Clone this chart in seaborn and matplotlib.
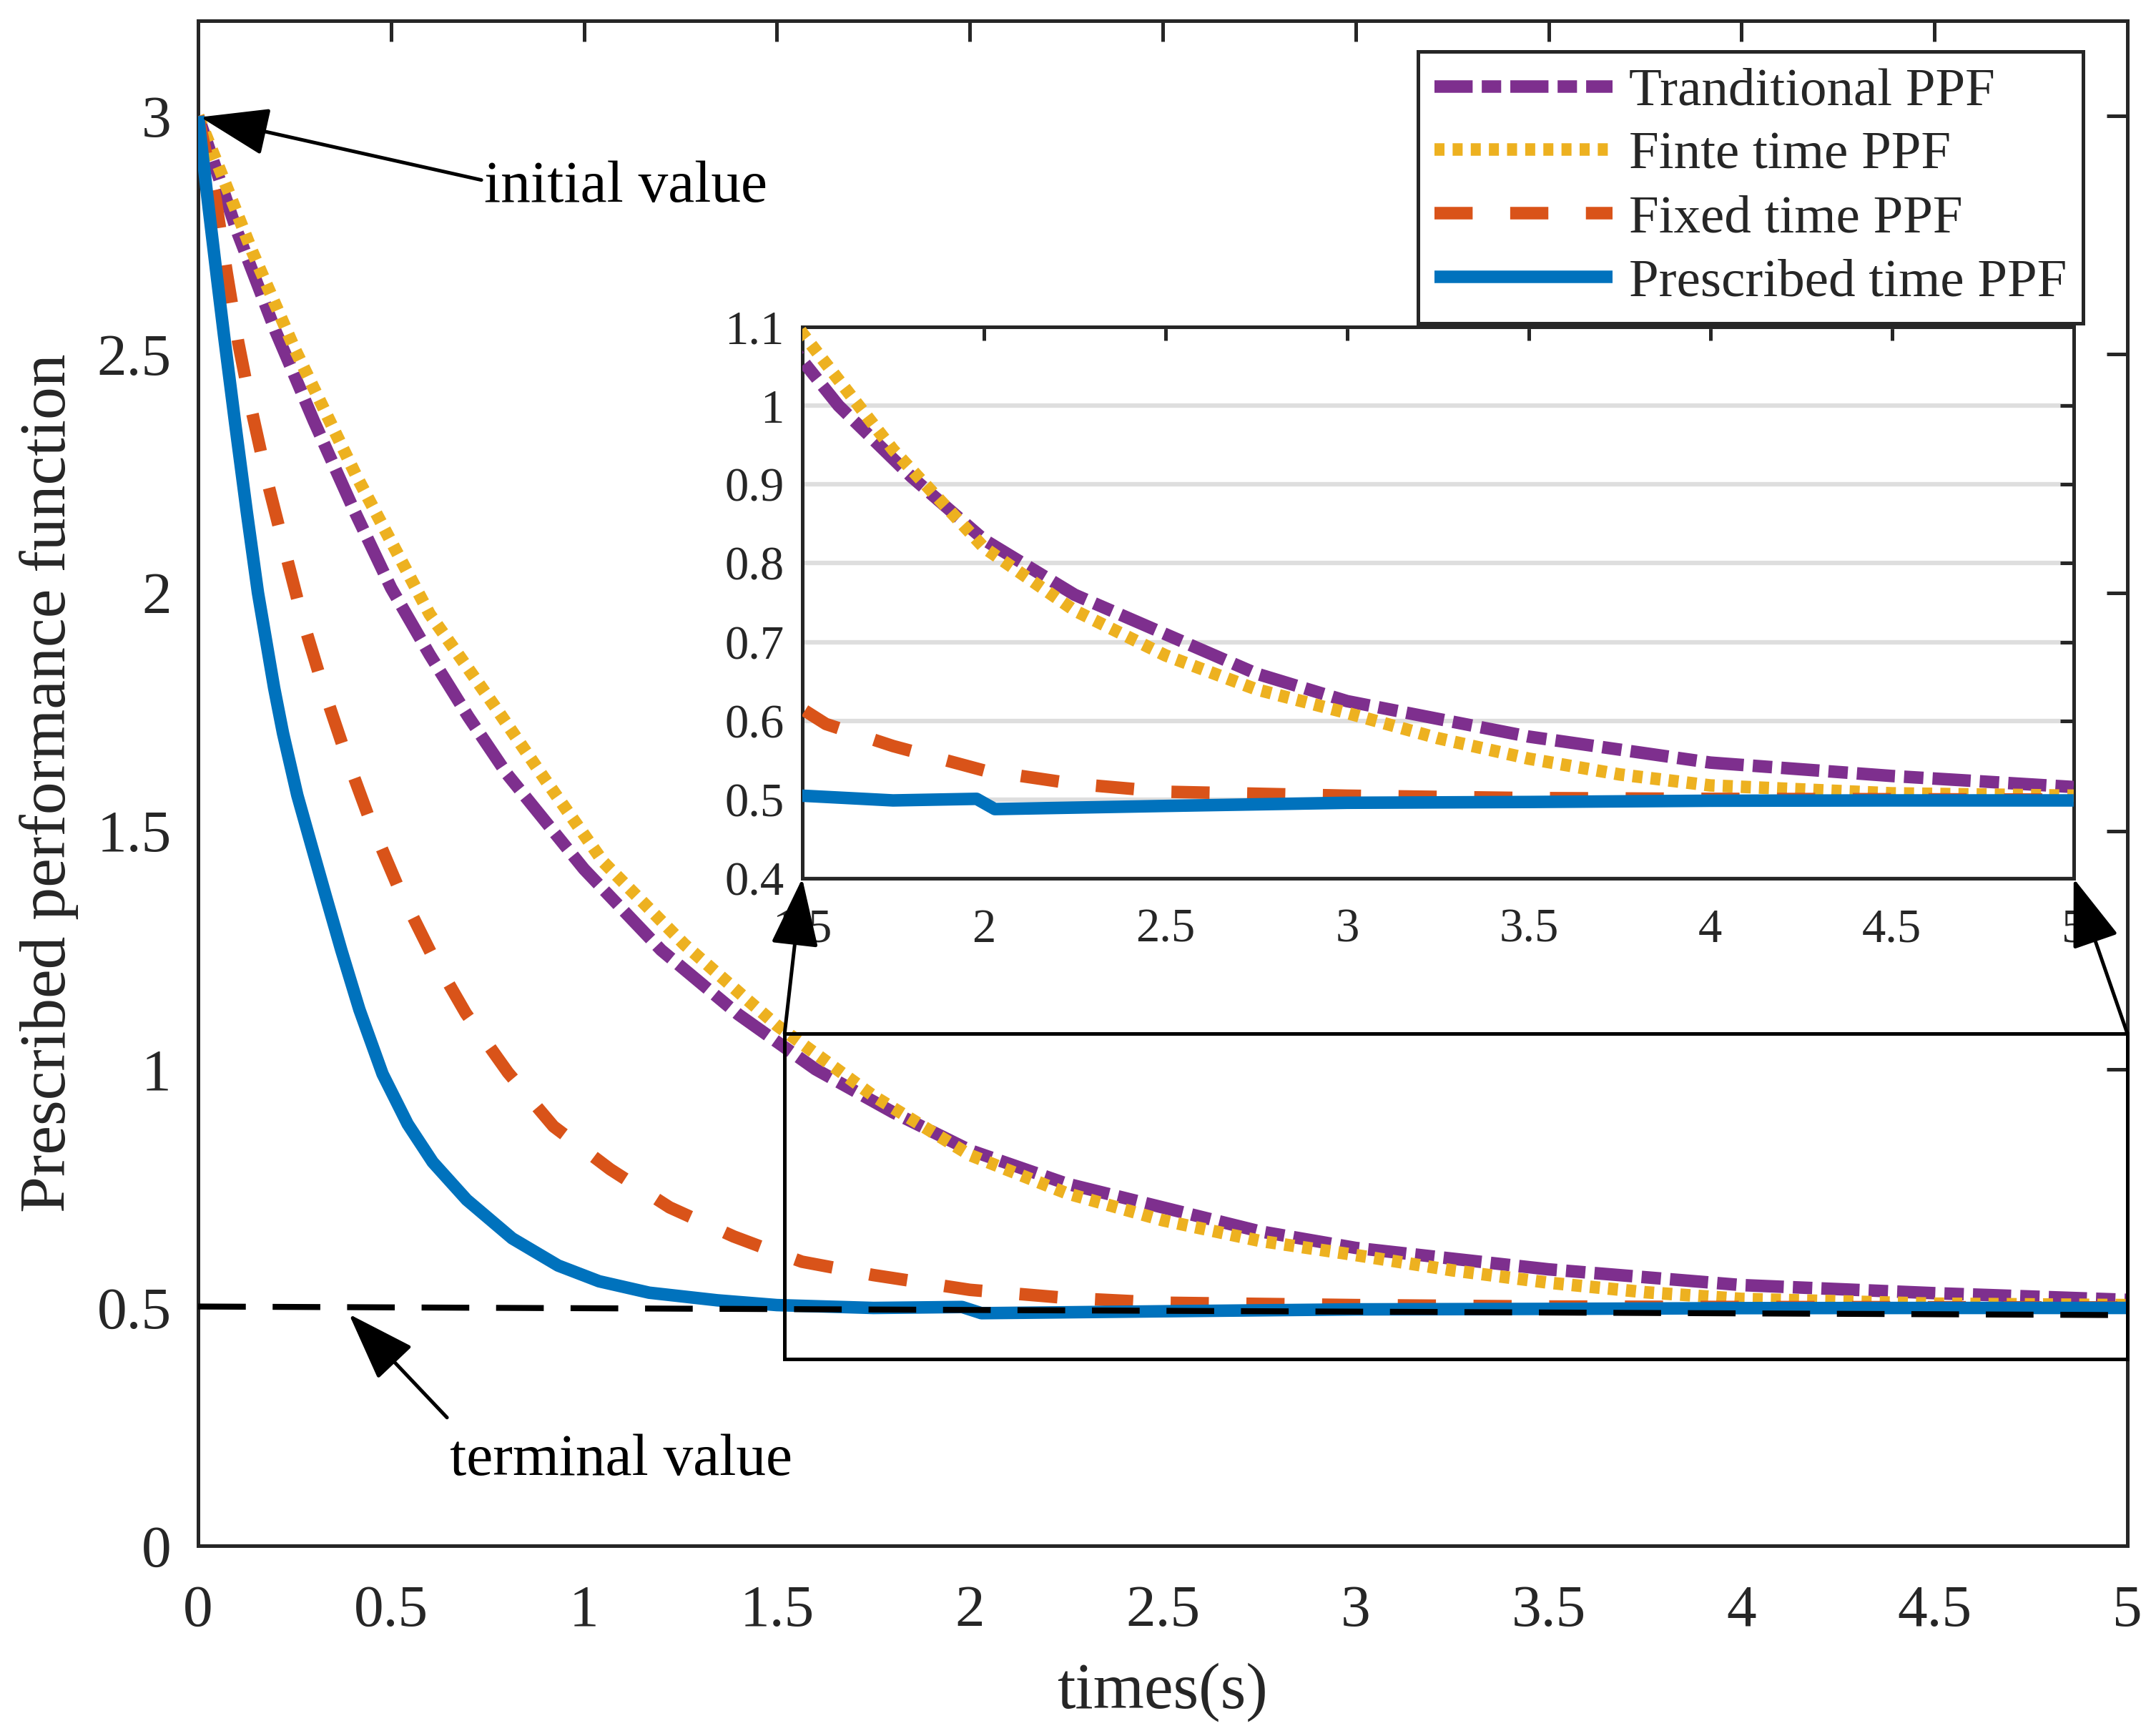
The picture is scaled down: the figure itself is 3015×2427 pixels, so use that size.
import matplotlib
matplotlib.use("Agg")
import matplotlib.pyplot as plt
import seaborn as sns
from matplotlib.patches import Rectangle, ConnectionPatch
from matplotlib.ticker import FuncFormatter, MultipleLocator

# ---- data ----
t_trad = [0, 0.1, 0.2, 0.3, 0.4, 0.5, 0.6, 0.7, 0.8, 0.9, 1.0, 1.2, 1.4,
          1.6, 1.8, 2.0, 2.25, 2.5, 2.75, 3.0, 3.5, 4.0, 4.5, 5.0]
v_trad = [3.0, 2.76, 2.55, 2.36, 2.18, 2.01, 1.87, 1.74, 1.62, 1.52, 1.42,
          1.25, 1.115, 1.0, 0.91, 0.83, 0.76, 0.71, 0.66, 0.625, 0.58,
          0.547, 0.53, 0.516]

t_fin = [0, 0.055, 0.14, 0.25, 0.41, 0.6, 0.67, 0.77, 0.9, 1.05, 1.26, 1.42,
         1.5, 1.75, 2.0, 2.25, 2.5, 2.75, 3.0, 3.25, 3.5, 3.75, 4.0, 4.5, 5.0]
v_fin = [3.0, 2.89, 2.716, 2.512, 2.245, 1.955, 1.875, 1.76, 1.607, 1.435,
         1.262, 1.148, 1.092, 0.944, 0.82, 0.74, 0.683, 0.64, 0.61, 0.578,
         0.552, 0.532, 0.518, 0.508, 0.505]

t_fix = [0, 0.046, 0.074, 0.104, 0.14, 0.18, 0.225, 0.271, 0.324, 0.383,
         0.448, 0.519, 0.602, 0.694, 0.803, 0.921, 1.068, 1.222, 1.388, 1.5,
         1.565, 1.75, 2.0, 2.25, 2.5, 3.0, 3.5, 4.0, 5.0]
v_fix = [3.0, 2.822, 2.672, 2.525, 2.378, 2.232, 2.088, 1.943, 1.801, 1.659,
         1.516, 1.381, 1.246, 1.117, 0.993, 0.88, 0.79, 0.71, 0.649, 0.615,
         0.596, 0.568, 0.537, 0.52, 0.51, 0.505, 0.502, 0.501, 0.5]

t_pre = [0, 0.024, 0.049, 0.067, 0.096, 0.126, 0.155, 0.197, 0.22, 0.257,
         0.297, 0.332, 0.371, 0.418, 0.478, 0.543, 0.608, 0.696, 0.814,
         0.933, 1.039, 1.169, 1.346, 1.5, 1.75, 1.98, 2.03, 2.5, 3.0, 3.5,
         4.0, 4.5, 5.0]
v_pre = [3.0, 2.83, 2.66, 2.54, 2.355, 2.17, 2.0, 1.80, 1.705, 1.575,
         1.46, 1.36, 1.25, 1.125, 0.99, 0.885, 0.805, 0.726, 0.645, 0.588,
         0.555, 0.531, 0.515, 0.505, 0.499, 0.501, 0.488, 0.492, 0.496,
         0.497, 0.4986, 0.499, 0.499]

t_term = [0, 5.0]
v_term = [0.502, 0.484]

labels = ["Tranditional PPF", "Finte time PPF", "Fixed time PPF",
          "Prescribed time PPF"]

PURPLE = "#7E2F8E"
YELLOW = "#EDB120"
RED    = "#D95319"
BLUE   = "#0072BD"
INK    = "#262626"

sns.set_theme(style="white")
plt.rcParams.update({
    "font.family": ["Liberation Serif", "DejaVu Serif"],
    "axes.edgecolor": INK,
    "axes.linewidth": 1.2,
    "xtick.color": INK, "ytick.color": INK,
    "lines.solid_capstyle": "butt",
    "lines.solid_joinstyle": "round",
})

series = [
    (t_trad, v_trad, PURPLE, (3.05, 0.73, 1.55, 0.73)),
    (t_fin,  v_fin,  YELLOW, (0.8, 0.65)),
    (t_fix,  v_fix,  RED,    (3.05, 3.0)),
    (t_pre,  v_pre,  BLUE,   None),
]
LW = 4.2


def draw_series(ax):
    handles = []
    for (t, v, color, dashes), lbl in zip(series, labels):
        sns.lineplot(x=t, y=v, ax=ax, color=color, linewidth=LW,
                     errorbar=None, legend=False, zorder=3)
        line = ax.lines[-1]
        if dashes is not None:
            line.set_dashes(dashes)
        line.set_label(lbl)
        handles.append(line)
    return handles


fig = plt.figure(figsize=(10.05, 8.09), dpi=300)
ax = fig.add_axes([0.0919, 0.1096, 0.8948, 0.8784])

handles = draw_series(ax)
sns.lineplot(x=t_term, y=v_term, ax=ax, color="black", linewidth=2.0,
             errorbar=None, legend=False, zorder=4)
ax.lines[-1].set_dashes((8, 4.5))

ax.set_xlim(0, 5)
ax.set_ylim(0, 3.2)
ax.xaxis.set_major_locator(MultipleLocator(0.5))
ax.yaxis.set_major_locator(MultipleLocator(0.5))
fmt = FuncFormatter(lambda v, p: f"{v:g}")
ax.xaxis.set_major_formatter(fmt)
ax.yaxis.set_major_formatter(fmt)
ax.tick_params(direction="in", length=7, width=1.2, top=True, right=True,
               labelsize=20)
ax.tick_params(axis="x", pad=13)
ax.tick_params(axis="y", pad=9)
ax.set_xlabel("times(s)", fontsize=22, labelpad=8, color=INK)
ax.set_ylabel("Prescribed performance function", fontsize=22, labelpad=6,
              color=INK)

leg = ax.legend(handles=handles, loc="upper right",
                bbox_to_anchor=(0.977, 0.980), borderaxespad=0,
                fontsize=18, handlelength=3.33, handletextpad=0.3,
                labelspacing=0.27, borderpad=0.3, fancybox=False,
                framealpha=1, edgecolor=INK)
leg.get_frame().set_linewidth(1.2)

# annotations
arrow_kw = dict(arrowstyle="-|>,head_length=1.0,head_width=0.35",
                mutation_scale=20, color="black", lw=1.2,
                shrinkA=0, shrinkB=0)
ax.text(0.741, 2.82, "initial value", fontsize=20, ha="left",
        va="baseline", color="black")
ax.annotate("", xy=(0.006, 2.998), xytext=(0.734, 2.866),
            arrowprops=arrow_kw, zorder=8)
ax.text(0.652, 0.149, "terminal value", fontsize=20, ha="left",
        va="baseline", color="black")
ax.annotate("", xy=(0.391, 0.486), xytext=(0.645, 0.269),
            arrowprops=arrow_kw, zorder=8)

# zoom rectangle
ax.add_patch(Rectangle((1.52, 0.392), 3.48, 0.683, fill=False,
                       ec="black", lw=1.2, zorder=6, clip_on=False))

# ---- inset ----
axins = fig.add_axes([0.3721, 0.494, 0.5897, 0.3177])
axins.set_facecolor("white")
draw_series(axins)
axins.set_xlim(1.5, 5)
axins.set_ylim(0.4, 1.1)
axins.xaxis.set_major_locator(MultipleLocator(0.5))
axins.yaxis.set_major_locator(MultipleLocator(0.1))
axins.xaxis.set_major_formatter(fmt)
axins.yaxis.set_major_formatter(fmt)
axins.set_axisbelow(True)
axins.yaxis.grid(True, color="#dedede", lw=1.5)
axins.xaxis.grid(False)
axins.tick_params(direction="in", length=4.5, width=1.2, top=True,
                  right=True, labelsize=16)
axins.tick_params(axis="x", pad=10)
axins.tick_params(axis="y", pad=6)

for xa, xb in [((1.52, 1.075), (1.5, 0.4)), ((5.0, 1.075), (5.0, 0.4))]:
    con = ConnectionPatch(xyA=xa, coordsA=ax.transData,
                          xyB=xb, coordsB=axins.transData,
                          **arrow_kw)
    con.set_zorder(10)
    fig.add_artist(con)

fig.savefig("out.png", dpi=300, facecolor="white")
